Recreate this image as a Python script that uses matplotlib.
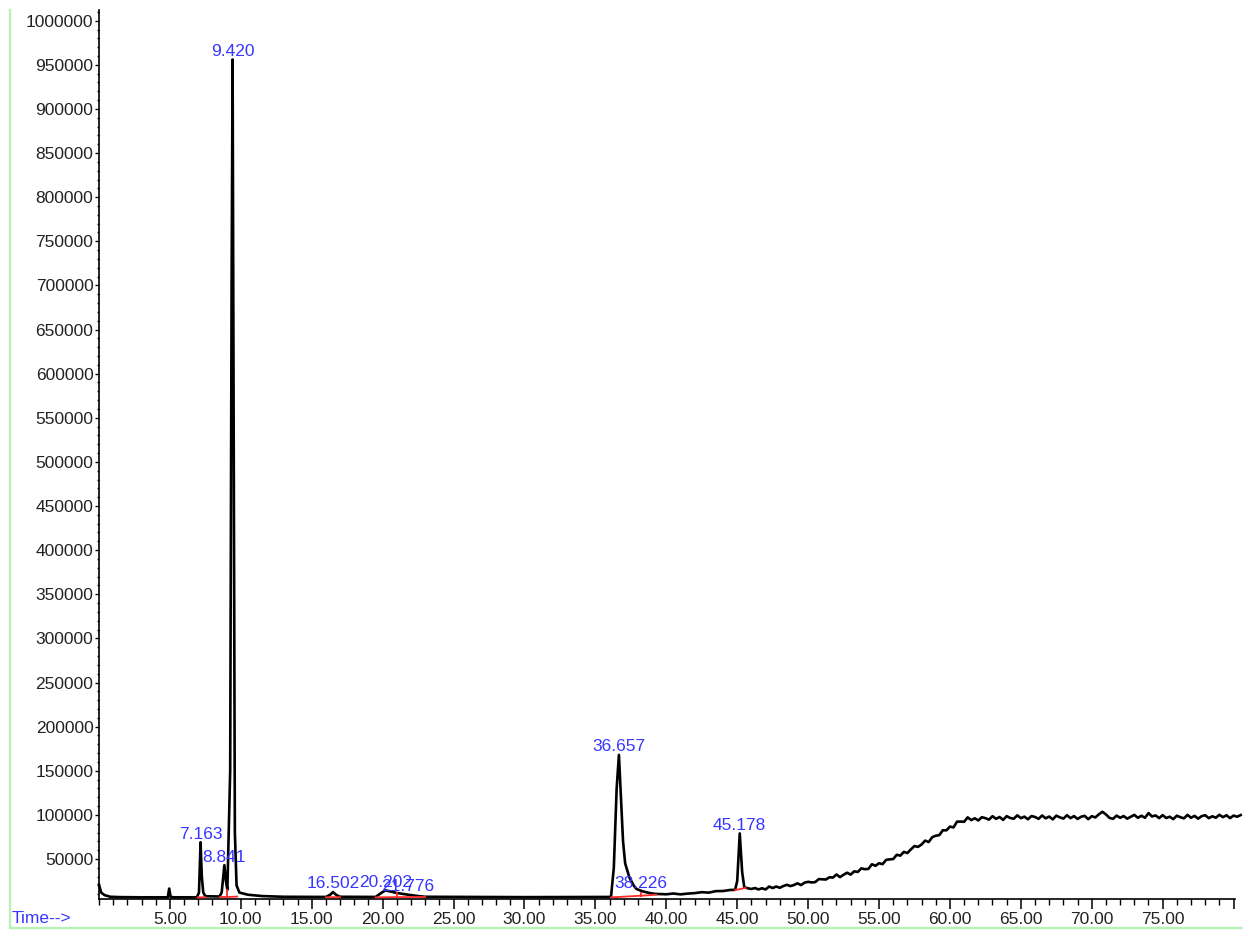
import matplotlib
matplotlib.use("Agg")
import matplotlib.pyplot as plt
from matplotlib.lines import Line2D
from matplotlib.ticker import MultipleLocator, FixedLocator, FuncFormatter

plt.rcParams['font.family'] = ['Liberation Sans', 'DejaVu Sans']

# ---------------- data ----------------
# early part of the run: solvent front, peaks 7.163 ... 21.776
early_time = [0.00, 0.15, 0.40, 0.80, 1.50, 3.00, 4.85, 4.95, 5.05, 5.30,
              6.90, 7.05, 7.16, 7.25, 7.35, 7.50, 8.50, 8.65, 8.84, 8.95,
              9.05, 9.25, 9.35, 9.42, 9.50, 9.58, 9.70, 9.90, 10.50, 11.50,
              13.00, 16.00, 16.30, 16.50, 16.75, 17.00, 19.50, 19.90, 20.20, 20.60,
              21.00, 21.80, 22.50, 23.00, 30.00, 36.00]
early_signal = [21000, 12000, 9000, 7200, 6800, 6600, 6600, 16500, 7000, 6600,
                6600, 12000, 69000, 30000, 12000, 7800, 7500, 12000, 43000, 25000,
                15000, 150000, 700000, 956000, 500000, 80000, 20000, 12000, 9500, 8000,
                7200, 7000, 9500, 12500, 9000, 7200, 7000, 11500, 14500, 13000,
                11500, 9500, 8000, 7200, 6800, 7000]

# middle part: peaks 36.657, 38.226 and 45.178
mid_time = [36.10, 36.30, 36.50, 36.66, 36.80, 36.95, 37.10, 37.40, 37.70, 37.90,
            38.30, 38.80, 39.20, 40.00, 40.50, 41.00, 41.50, 42.00, 42.50, 43.00,
            43.50, 44.00, 44.50, 44.85, 45.00, 45.18, 45.35, 45.50, 45.70, 46.00]
mid_signal = [6800, 40000, 130000, 168000, 120000, 70000, 45000, 29000, 20000, 16000,
              13500, 11500, 10500, 10000, 10900, 9900, 10800, 11300, 12400, 11900,
              13600, 13700, 14900, 15000, 25000, 79000, 35000, 18000, 17000, 16000]

# late part: rising, noisy column-bleed baseline
late_time = [46.25, 46.50, 46.75, 47.00, 47.25, 47.50, 47.75, 48.00, 48.25, 48.50,
             48.75, 49.00, 49.25, 49.50, 49.75, 50.00, 50.25, 50.50, 50.75, 51.00,
             51.25, 51.50, 51.75, 52.00, 52.25, 52.50, 52.75, 53.00, 53.25, 53.50,
             53.75, 54.00, 54.25, 54.50, 54.75, 55.00, 55.25, 55.50, 55.75, 56.00,
             56.25, 56.50, 56.75, 57.00, 57.25, 57.50, 57.75, 58.00, 58.25, 58.50,
             58.75, 59.00, 59.25, 59.50, 59.75, 60.00, 60.25, 60.50, 60.75, 61.00,
             61.25, 61.50, 61.75, 62.00, 62.25, 62.50, 62.75, 63.00, 63.25, 63.50,
             63.75, 64.00, 64.25, 64.50, 64.75, 65.00, 65.25, 65.50, 65.75, 66.00,
             66.25, 66.50, 66.75, 67.00, 67.25, 67.50, 67.75, 68.00, 68.25, 68.50,
             68.75, 69.00, 69.25, 69.50, 69.75, 70.00, 70.25, 70.50, 70.75, 71.00,
             71.25, 71.50, 71.75, 72.00, 72.25, 72.50, 72.75, 73.00, 73.25, 73.50,
             73.75, 74.00, 74.25, 74.50, 74.75, 75.00, 75.25, 75.50, 75.75, 76.00,
             76.25, 76.50, 76.75, 77.00, 77.25, 77.50, 77.75, 78.00, 78.25, 78.50,
             78.75, 79.00, 79.25, 79.50, 79.75, 80.00, 80.25, 80.50]
late_signal = [17080, 15480, 16860, 15480, 18800, 17120, 18820, 17360, 19340, 20800,
               19300, 20520, 22420, 20460, 23240, 24140, 23440, 23800, 27220, 26980,
               26740, 29260, 28980, 32460, 29480, 32180, 34450, 32310, 36020, 35330,
               39410, 38450, 38770, 44040, 42290, 45230, 44130, 48970, 49590, 49940,
               54790, 53800, 58040, 56790, 60950, 64670, 63720, 66460, 70820, 69250,
               74700, 76370, 77050, 82600, 82480, 86680, 85800, 92300, 92400, 92200,
               97200, 94100, 96100, 93700, 97400, 96300, 94600, 98500, 95500, 97600,
               94300, 98600, 96500, 95600, 99500, 96300, 98000, 95000, 98700, 97600,
               95500, 99300, 96100, 98100, 94900, 99100, 97200, 95800, 99600, 96300,
               98600, 95400, 97900, 98900, 95100, 98500, 97100, 100600, 103500, 100500,
               96600, 95500, 99200, 96700, 98700, 95700, 97900, 100000, 96700, 99000,
               96700, 102000, 98200, 99400, 96300, 99700, 96500, 97900, 95200, 99100,
               97300, 96100, 100000, 96700, 98900, 95700, 98600, 99600, 96300, 98400,
               96800, 100100, 97400, 99600, 96300, 99200, 97900, 99800]

# integrated peaks (retention times as labelled) and signal at label position
peak_rt = [7.163, 8.841, 9.420, 16.502, 20.202, 21.776, 36.657, 38.226, 45.178]
peak_label = ["7.163", "8.841", "9.420", "16.502", "20.202", "21.776",
              "36.657", "38.226", "45.178"]
peak_label_signal = [69000, 43000, 956000, 12500, 14500, 10000, 168000, 13500, 79000]

# integration baselines (red)
base_t0 = [6.95, 8.55, 9.05, 16.00, 19.50, 21.00, 36.10, 38.20, 44.85]
base_t1 = [7.50, 9.05, 9.75, 17.00, 21.00, 23.00, 38.20, 39.30, 45.60]
base_s0 = [6500, 6900, 6900, 6600, 6600, 6800, 6500, 8400, 14800]
base_s1 = [6700, 6900, 7400, 6800, 6800, 7000, 8400, 9500, 17200]

# red drop lines between split peaks
drop_t = [9.05, 21.00, 38.20]
drop_s0 = [6900, 6800, 8400]
drop_s1 = [15000, 11500, 11000]

x_major = [5, 10, 15, 20, 25, 30, 35, 40, 45, 50, 55, 60, 65, 70, 75, 80]
y_major = list(range(50000, 1000001, 50000))

# ---------------- drawing ----------------
W, H = 1243, 930
fig = plt.figure(figsize=(W / 100, H / 100), dpi=100)
ax = fig.add_axes([99 / W, 1 - 898.5 / H, 1136 / W, 888.5 / H])

blue = "#3636ff"
txt = "#222222"

trace_t = early_time + mid_time + late_time
trace_s = early_signal + mid_signal + late_signal
ax.plot(trace_t, trace_s, color="black", lw=1.9, clip_on=False, zorder=3)

for t0, t1, s0, s1 in zip(base_t0, base_t1, base_s0, base_s1):
    ax.plot([t0, t1], [s0, s1], color="#ff2a2a", lw=1.3, zorder=4)
for t, s0, s1 in zip(drop_t, drop_s0, drop_s1):
    ax.plot([t, t], [s0, s1], color="#ff2a2a", lw=1.3, zorder=4)

for rt, lab, s in zip(peak_rt, peak_label, peak_label_signal):
    ax.annotate(lab, (rt, s), xytext=(0, 2.6), textcoords="offset points",
                ha="center", va="baseline", color=blue, fontsize=12.5, zorder=5)

ax.set_xlim(0, 80.1)
ax.set_ylim(5240, 1012100)

ax.xaxis.set_major_locator(FixedLocator(x_major))
ax.xaxis.set_minor_locator(MultipleLocator(1))
ax.xaxis.set_major_formatter(FuncFormatter(lambda v, p: "" if v >= 79.5 else f"{v:.2f}"))
ax.yaxis.set_major_locator(FixedLocator(y_major))
ax.yaxis.set_minor_locator(MultipleLocator(10000))
ax.yaxis.set_major_formatter(FuncFormatter(lambda v, p: f"{int(round(v))}"))

ax.tick_params(axis="x", which="major", direction="out", length=7.5, width=1.1,
               labelsize=12.5, labelcolor=txt, pad=2.5)
ax.tick_params(axis="x", which="minor", direction="out", length=4.2, width=1.0)
ax.tick_params(axis="y", which="major", direction="out", length=3, width=1.0,
               labelsize=12.5, labelcolor=txt, pad=1)
ax.tick_params(axis="y", which="minor", direction="out", length=1.5, width=1.0)

for side in ("top", "right"):
    ax.spines[side].set_visible(False)
for side in ("left", "bottom"):
    ax.spines[side].set_linewidth(1.2)
    ax.spines[side].set_color("black")

# light green frame of the printout
green = "#b6f2b6"
fig.add_artist(Line2D([10.5 / W, 10.5 / W], [1 - 928 / H, 1 - 10 / H],
                      transform=fig.transFigure, color=green, lw=1.6))
fig.add_artist(Line2D([10.5 / W, 1.0], [1 - 928 / H, 1 - 928 / H],
                      transform=fig.transFigure, color=green, lw=1.6))

fig.text(12 / W, 1 - 918 / H, "Time-->", color=blue, fontsize=12.5,
         ha="left", va="center")

fig.savefig("out.png", dpi=100)
